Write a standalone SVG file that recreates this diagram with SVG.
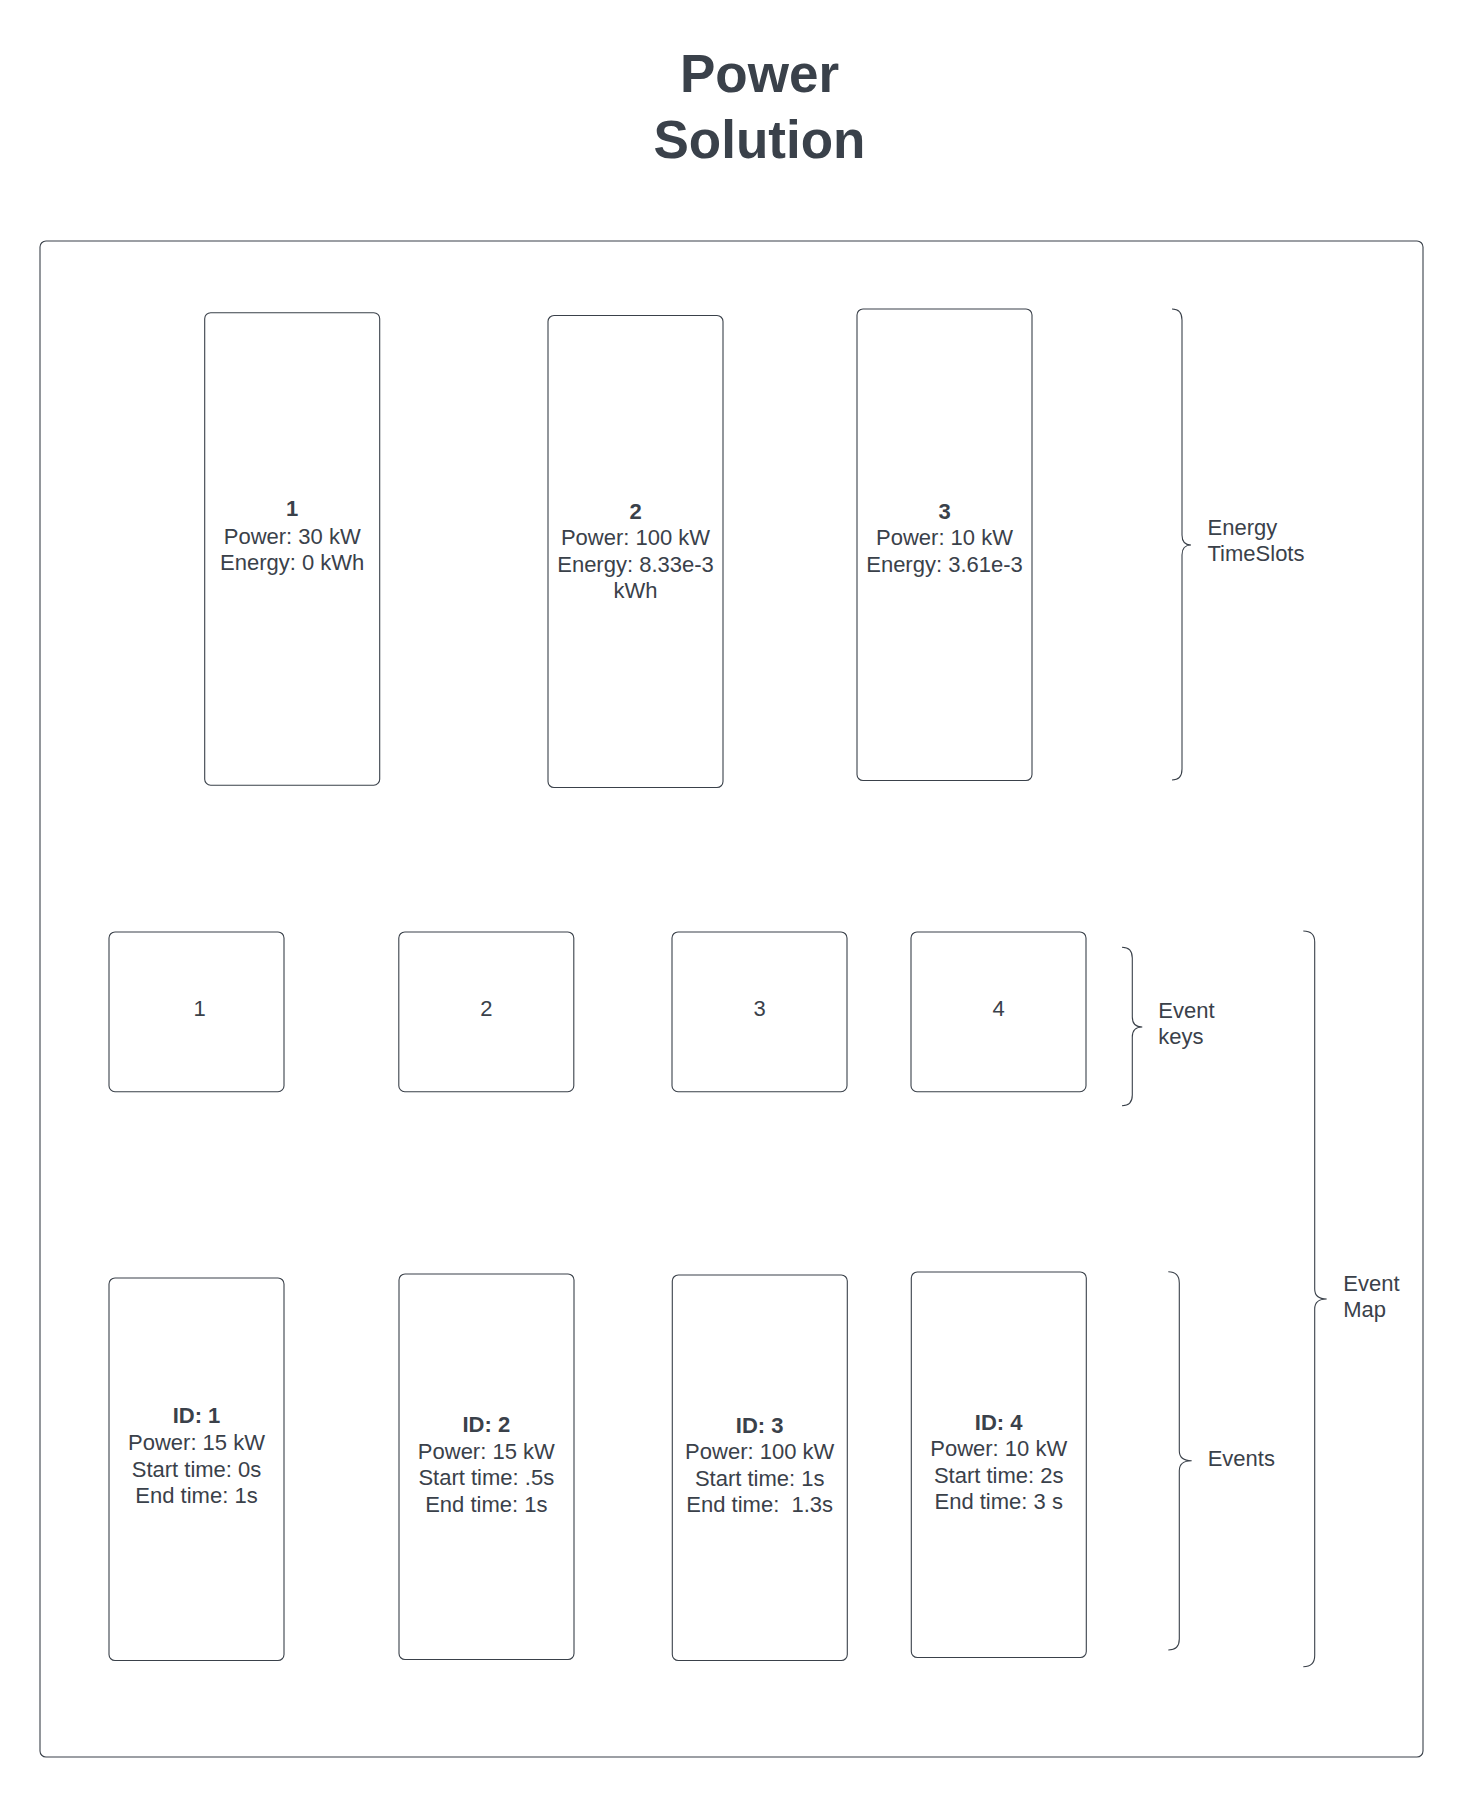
<svg xmlns="http://www.w3.org/2000/svg" width="1465" height="1799" viewBox="0 0 1465 1799">
<style>
.bg{fill:#ffffff}
.box{fill:#ffffff;stroke:#3a414a;stroke-width:1.1}
.br{fill:none;stroke:#3a414a;stroke-width:1.1}
.t{font-family:"Liberation Sans",Arial,sans-serif;font-size:22px;fill:#3a414a}
.c{text-anchor:middle}
.b{font-weight:bold}
.title{font-family:"Liberation Sans",Arial,sans-serif;font-size:53px;font-weight:bold;fill:#3a414a;text-anchor:middle}
</style>
<rect class="bg" x="0" y="0" width="1465" height="1799"/>
<g id="title">
<text class="title" x="759.5" y="92.3">Power</text>
<text class="title" x="759.5" y="157.7">Solution</text>
</g>
<g id="frame"><rect class="box" x="40" y="241" width="1383" height="1516" rx="6"/></g>

<g id="slot1">
<rect class="box" x="204.7" y="312.7" width="175" height="472.5" rx="6"/>
<text class="t c" x="292.2"><tspan class="b" x="292.2" y="516">1</tspan><tspan x="292.2" y="543.5">Power: 30 kW</tspan><tspan x="292.2" y="570">Energy: 0 kWh</tspan></text>
</g>
<g id="slot2">
<rect class="box" x="548" y="315.5" width="175" height="472" rx="6"/>
<text class="t c"><tspan class="b" x="635.5" y="518.5">2</tspan><tspan x="635.5" y="545.4">Power: 100 kW</tspan><tspan x="635.5" y="571.5">Energy: 8.33e-3</tspan><tspan x="635.5" y="598">kWh</tspan></text>
</g>
<g id="slot3">
<rect class="box" x="857" y="309" width="175" height="471.5" rx="6"/>
<text class="t c"><tspan class="b" x="944.5" y="518.5">3</tspan><tspan x="944.5" y="545.4">Power: 10 kW</tspan><tspan x="944.5" y="571.5">Energy: 3.61e-3</tspan></text>
</g>

<g id="key1"><rect class="box" x="109" y="932" width="175" height="159.7" rx="6"/><text class="t c" x="199.5" y="1016">1</text></g>
<g id="key2"><rect class="box" x="398.8" y="932" width="175" height="159.7" rx="6"/><text class="t c" x="486.3" y="1016">2</text></g>
<g id="key3"><rect class="box" x="672" y="932" width="175" height="159.7" rx="6"/><text class="t c" x="759.5" y="1016">3</text></g>
<g id="key4"><rect class="box" x="911" y="932" width="175" height="159.7" rx="6"/><text class="t c" x="998.5" y="1016">4</text></g>

<g id="event1">
<rect class="box" x="109" y="1278" width="175" height="382.5" rx="6"/>
<text class="t c"><tspan class="b" x="196.5" y="1423.3">ID: 1</tspan><tspan x="196.5" y="1450">Power: 15 kW</tspan><tspan x="196.5" y="1476.7">Start time: 0s</tspan><tspan x="196.5" y="1503">End time: 1s</tspan></text>
</g>
<g id="event2">
<rect class="box" x="399" y="1274" width="175" height="385.5" rx="6"/>
<text class="t c"><tspan class="b" x="486.3" y="1432.3">ID: 2</tspan><tspan x="486.3" y="1459">Power: 15 kW</tspan><tspan x="486.3" y="1485.3">Start time: .5s</tspan><tspan x="486.3" y="1511.7">End time: 1s</tspan></text>
</g>
<g id="event3">
<rect class="box" x="672.3" y="1275" width="175" height="385.5" rx="6"/>
<text class="t c" style="white-space:pre"><tspan class="b" x="759.7" y="1432.7">ID: 3</tspan><tspan x="759.7" y="1459.3">Power: 100 kW</tspan><tspan x="759.7" y="1485.8">Start time: 1s</tspan><tspan x="759.7" y="1512.3">End time:  1.3s</tspan></text>
</g>
<g id="event4">
<rect class="box" x="911.3" y="1272" width="175" height="385.5" rx="6"/>
<text class="t c"><tspan class="b" x="998.7" y="1430">ID: 4</tspan><tspan x="998.7" y="1456.3">Power: 10 kW</tspan><tspan x="998.7" y="1482.7">Start time: 2s</tspan><tspan x="998.7" y="1509">End time: 3 s</tspan></text>
</g>

<g id="connectors">
<path class="br" d="M1172,309 Q1182,309 1182,320 L1182,535 Q1182,545 1191,545 Q1182,545 1182,555 L1182,769 Q1182,780 1172,780"/>
<path class="br" d="M1122,947.3 Q1132.3,947.3 1132.3,958 L1132.3,1017 Q1132.3,1027 1142.3,1027 Q1132.3,1027 1132.3,1037 L1132.3,1095 Q1132.3,1105.7 1122,1105.7"/>
<path class="br" d="M1168.3,1271.7 Q1179.3,1271.7 1179.3,1283 L1179.3,1450.7 Q1179.3,1460.7 1191.7,1460.7 Q1179.3,1460.7 1179.3,1470.7 L1179.3,1639 Q1179.3,1650 1168.3,1650"/>
<path class="br" d="M1303.3,931 Q1314.7,931 1314.7,942 L1314.7,1289 Q1314.7,1299 1326.7,1299 Q1314.7,1299 1314.7,1309 L1314.7,1655.5 Q1314.7,1666.7 1303.3,1666.7"/>
</g>

<g id="label-energy"><text class="t"><tspan x="1207.5" y="535.4">Energy</tspan><tspan x="1207.5" y="561.3">TimeSlots</tspan></text></g>
<g id="label-keys"><text class="t"><tspan x="1158.3" y="1018.3">Event</tspan><tspan x="1158.3" y="1044.3">keys</tspan></text></g>
<g id="label-map"><text class="t"><tspan x="1343.3" y="1290.7">Event</tspan><tspan x="1343.3" y="1316.7">Map</tspan></text></g>
<g id="label-events"><text class="t" x="1207.7" y="1465.7">Events</text></g>
</svg>
